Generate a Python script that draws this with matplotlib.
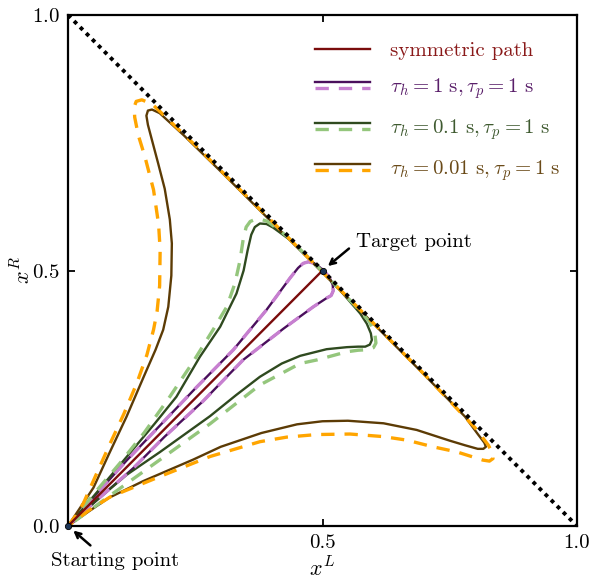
import matplotlib
matplotlib.use("Agg")
from matplotlib import pyplot as plt
from matplotlib.legend_handler import HandlerBase
from matplotlib.lines import Line2D

plt.rcParams["font.family"] = "serif"
plt.rcParams["font.serif"] = ["cmr10"]
plt.rcParams["mathtext.fontset"] = "cm"
plt.rcParams["axes.formatter.use_mathtext"] = True
plt.rcParams["axes.unicode_minus"] = False

# symmetric path
sym_x = [0.0, 0.5]
sym_y = [0.0, 0.5]

# tau_h = 1 s
p1_x = [0.0, 0.05, 0.115, 0.18, 0.246, 0.325, 0.39, 0.436, 0.452, 0.462, 0.472,
        0.484, 0.495, 0.505, 0.514, 0.52, 0.521, 0.517, 0.508, 0.482, 0.423,
        0.344, 0.265, 0.19, 0.128, 0.056, 0.0]
p1_y = [0.0, 0.056, 0.128, 0.196, 0.265, 0.345, 0.423, 0.485, 0.505, 0.514,
        0.517, 0.514, 0.506, 0.497, 0.486, 0.472, 0.46, 0.451, 0.446, 0.429,
        0.386, 0.325, 0.244, 0.175, 0.113, 0.05, 0.0]
d1_x = [0.0, 0.05, 0.115, 0.18, 0.246, 0.325, 0.39, 0.436, 0.452, 0.462, 0.472,
        0.484, 0.495, 0.505, 0.514, 0.52, 0.521, 0.517, 0.508, 0.482, 0.423,
        0.344, 0.265, 0.19, 0.128, 0.056, 0.0]
d1_y = [0.0, 0.056, 0.128, 0.196, 0.265, 0.345, 0.423, 0.485, 0.505, 0.514,
        0.517, 0.514, 0.506, 0.497, 0.486, 0.472, 0.46, 0.451, 0.446, 0.429,
        0.386, 0.325, 0.244, 0.175, 0.113, 0.05, 0.0]

# tau_h = 0.1 s
p2_x = [0.0, 0.05, 0.115, 0.17, 0.213, 0.259, 0.299, 0.331, 0.345, 0.353, 0.36,
        0.367, 0.377, 0.39, 0.403, 0.436, 0.47, 0.5, 0.54, 0.574, 0.587, 0.595,
        0.597, 0.593, 0.584, 0.57, 0.548, 0.508, 0.456, 0.42, 0.377, 0.33, 0.279,
        0.181, 0.115, 0.05, 0.0]
p2_y = [0.0, 0.058, 0.135, 0.2, 0.253, 0.331, 0.39, 0.455, 0.5, 0.54, 0.57,
        0.585, 0.592, 0.591, 0.584, 0.56, 0.527, 0.497, 0.455, 0.416, 0.396,
        0.377, 0.364, 0.355, 0.351, 0.351, 0.35, 0.346, 0.333, 0.318, 0.292,
        0.256, 0.215, 0.145, 0.1, 0.045, 0.0]
d2_x = [0.0, 0.05, 0.102, 0.15, 0.2, 0.245, 0.285, 0.312, 0.328, 0.338, 0.344,
        0.35, 0.358, 0.368, 0.38, 0.392, 0.43, 0.5, 0.57, 0.592, 0.603, 0.605,
        0.6, 0.588, 0.57, 0.548, 0.489, 0.456, 0.377, 0.279, 0.181, 0.083, 0.0]
d2_y = [0.0, 0.062, 0.123, 0.183, 0.253, 0.32, 0.384, 0.429, 0.475, 0.52, 0.56,
        0.585, 0.596, 0.6, 0.6, 0.596, 0.567, 0.498, 0.425, 0.4, 0.375, 0.358,
        0.349, 0.345, 0.344, 0.341, 0.325, 0.318, 0.276, 0.2, 0.13, 0.06, 0.0]

# tau_h = 0.01 s
p3_x = [0.0, 0.02, 0.05, 0.08, 0.115, 0.15, 0.172, 0.187, 0.197, 0.203, 0.204,
        0.2, 0.19, 0.177, 0.165, 0.157, 0.154, 0.157, 0.165, 0.18, 0.227, 0.3,
        0.4, 0.5, 0.6, 0.7, 0.78, 0.805, 0.818, 0.821, 0.816, 0.805, 0.78, 0.75,
        0.685, 0.62, 0.55, 0.5, 0.45, 0.38, 0.3, 0.246, 0.148, 0.08, 0.04, 0.0]
p3_y = [0.0, 0.03, 0.075, 0.14, 0.214, 0.295, 0.345, 0.384, 0.429, 0.49, 0.553,
        0.6, 0.66, 0.71, 0.755, 0.785, 0.803, 0.813, 0.815, 0.808, 0.765, 0.694,
        0.595, 0.496, 0.396, 0.296, 0.214, 0.18, 0.163, 0.155, 0.151, 0.151,
        0.158, 0.167, 0.188, 0.201, 0.206, 0.205, 0.199, 0.182, 0.155, 0.13,
        0.088, 0.055, 0.028, 0.0]
d3_x = [0.0, 0.015, 0.03, 0.055, 0.083, 0.11, 0.135, 0.155, 0.168, 0.175, 0.18,
        0.181, 0.178, 0.168, 0.151, 0.138, 0.131, 0.13, 0.134, 0.145, 0.165, 0.25,
        0.4, 0.5, 0.6, 0.7, 0.8, 0.826, 0.834, 0.835, 0.828, 0.815, 0.764, 0.717,
        0.666, 0.619, 0.554, 0.489, 0.43, 0.377, 0.279, 0.181, 0.083, 0.04, 0.0]
d3_y = [0.0, 0.02, 0.044, 0.1, 0.162, 0.22, 0.279, 0.335, 0.384, 0.42, 0.47,
        0.54, 0.59, 0.658, 0.723, 0.765, 0.8, 0.82, 0.831, 0.834, 0.826, 0.745,
        0.597, 0.497, 0.397, 0.297, 0.192, 0.158, 0.142, 0.132, 0.127, 0.129,
        0.145, 0.155, 0.168, 0.175, 0.18, 0.179, 0.174, 0.165, 0.136, 0.097,
        0.057, 0.03, 0.0]

labels = [
    "symmetric path",
    r"$\tau_h = 1\ \mathrm{s}, \tau_p = 1\ \mathrm{s}$",
    r"$\tau_h = 0.1\ \mathrm{s}, \tau_p = 1\ \mathrm{s}$",
    r"$\tau_h = 0.01\ \mathrm{s}, \tau_p = 1\ \mathrm{s}$",
]
text_colors = ["#8a1a1a", "#5a1f6a", "#3f5a30", "#6a4a18"]

xtick_vals = [0.0, 0.5, 1.0]
xtick_labels = ["", "0.5", "1.0"]
ytick_vals = [0.0, 0.5, 1.0]

sym_color = "#7a0c0c"
solid_colors = ["#4a0f5c", "#2f4a1f", "#5c3b05"]
dash_colors = ["#c77fd0", "#94c67c", "#ffa500"]
dash_pattern = (4, 3)


class HandlerStack(HandlerBase):
    """draw a solid line with its dashed twin just below it"""

    def create_artists(self, legend, orig_handle, xdescent, ydescent,
                       width, height, fontsize, trans):
        yc = (height - ydescent) / 2
        gap = 0.3 * fontsize
        xs = [-xdescent, width - xdescent]
        arts = []
        for i, h in enumerate(orig_handle):
            y = yc + gap / 2 - i * gap
            ln = Line2D(xs, [y, y], color=h.get_color(), lw=h.get_linewidth(),
                        linestyle=h.get_linestyle())
            if i == 1:
                ln.set_dashes(dash_pattern)
            ln.set_transform(trans)
            arts.append(ln)
        return arts


fig = plt.figure(figsize=(5.93, 5.84), dpi=100)
ax = fig.add_axes([0.1147, 0.0993, 0.8583, 0.875])

loops = [(p1_x, p1_y, d1_x, d1_y), (p2_x, p2_y, d2_x, d2_y), (p3_x, p3_y, d3_x, d3_y)]
handles = []
for (px_, py_, dx_, dy_), sc, dc in zip(loops, solid_colors, dash_colors):
    s, = ax.plot(px_, py_, color=sc, lw=1.7, zorder=2)
    d, = ax.plot(dx_, dy_, color=dc, lw=2.4, dashes=dash_pattern, zorder=2.1)
    handles.append((s, d))

sym, = ax.plot(sym_x, sym_y, color=sym_color, lw=1.7, zorder=3)

# boundary x^L + x^R = 1
ax.plot([0, 1], [1, 0], color="black", lw=2.8, linestyle=(0, (1, 1.2)), zorder=4)

# start and target
ax.plot([0, 0.5], [0, 0.5], linestyle="none", marker="o", markersize=4.5,
        color="#1c3557", markeredgecolor="black", markeredgewidth=0.6,
        zorder=5, clip_on=False)

arrow = dict(arrowstyle="->", color="black", lw=1.8, shrinkA=0, shrinkB=5)
ax.annotate("", xy=(0, 0), xytext=(0.044, -0.038), annotation_clip=False,
            arrowprops=arrow)
ax.text(0.092, -0.068, "Starting point", ha="center", va="center", fontsize=15,
        clip_on=False)
ax.annotate("", xy=(0.5, 0.5), xytext=(0.552, 0.543), arrowprops=arrow)
ax.text(0.566, 0.556, "Target point", ha="left", va="center", fontsize=15)

ax.set_xlim(0, 1)
ax.set_ylim(0, 1)
ax.set_xticks(xtick_vals)
ax.set_xticklabels(xtick_labels)
ax.set_yticks(ytick_vals)
ax.tick_params(direction="in", length=5, width=1.3, labelsize=15, pad=6,
               top=True, right=True)
for sp in ax.spines.values():
    sp.set_linewidth(1.6)
ax.set_xlabel(r"$x^L$", fontsize=16, labelpad=3)
ax.set_ylabel(r"$x^R$", fontsize=16, labelpad=-2)

leg = ax.legend([sym] + handles, labels, loc="upper left",
                bbox_to_anchor=(0.485, 0.948), frameon=False, fontsize=15,
                handlelength=2.64, handletextpad=0.96, labelspacing=0.78,
                borderpad=0, borderaxespad=0,
                handler_map={tuple: HandlerStack()})
for txt, c in zip(leg.get_texts(), text_colors):
    txt.set_color(c)

fig.savefig("out.png", dpi=100)
